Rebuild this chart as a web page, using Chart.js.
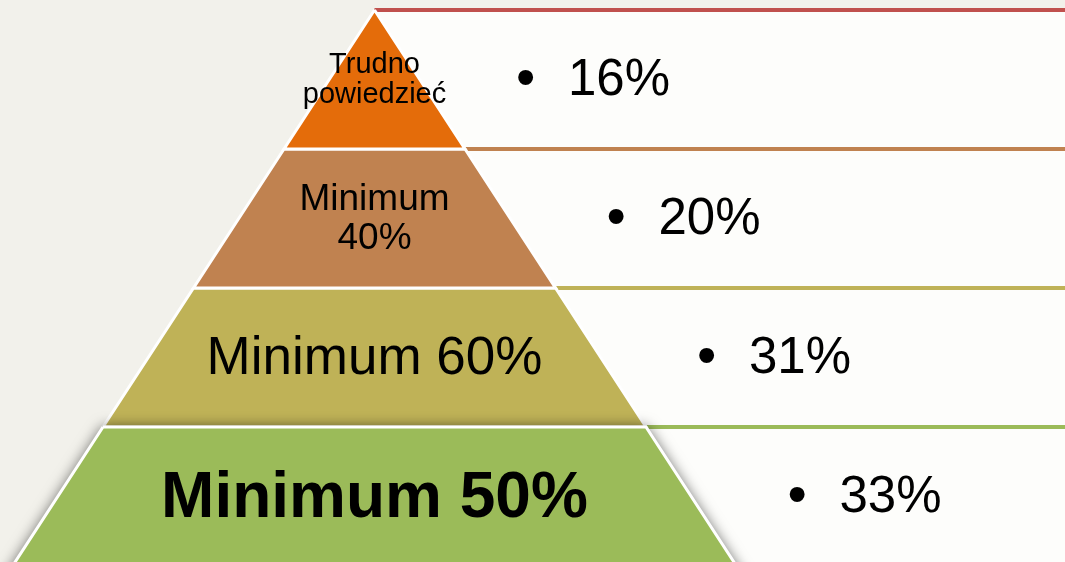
<!DOCTYPE html>
<html><head><meta charset="utf-8">
<script src="https://cdn.jsdelivr.net/npm/chart.js@4.4.1/dist/chart.umd.min.js"></script>
<style>
html,body{margin:0;padding:0;background:#f2f1eb;overflow:hidden}
#wrap{position:relative;width:1065px;height:562px}
</style></head>
<body><div id="wrap"><canvas id="c"></canvas></div>
<script>
// ---- data ----
const categories = [["Trudno", "powiedzieć"], ["Minimum", "40%"], ["Minimum 60%"], ["Minimum 50%"]];
const shares = [16, 20, 31, 33];
const valueLabels = shares.map(v => v + "%");
// ---- styles ----
const layerColors = ["#e46c0a", "#c08250", "#bfb257", "#9bbb59"];
const ruleColors  = ["#c0504d", "#c08250", "#bfb257", "#9bbb59"];
const labelFonts  = [["29px", "normal", 30], ["37px", "normal", 39], ["53px", "normal", 0], ["64px", "bold", 0]];
const FONT = "'Liberation Sans', Arial, sans-serif";

const N = categories.length;
const Y_MAX = 4.0719, Y_MIN = 0.0288;      // level scale (apex = N, base = 0)
const X_MIN = -1.03453, X_MAX = 1.90746;   // half-width units (base half-width = 1)
const hw = L => (N - L) / N;

const datasets = [];
// right-hand panel
datasets.push({
  label: "panel",
  data: [{x: hw(N), y: N}, {x: X_MAX, y: N}, {x: X_MAX, y: Y_MIN - 0.1}, {x: hw(Y_MIN - 0.1), y: Y_MIN - 0.1}, {x: hw(N), y: N}],
  fill: "shape", backgroundColor: "#fdfdfb", borderWidth: 0, pointRadius: 0, order: 20
});
// horizontal rules
ruleColors.forEach((c, i) => {
  const L = N - i;
  datasets.push({
    label: "rule" + i,
    data: [{x: hw(L), y: L}, {x: X_MAX, y: L}],
    fill: false, borderColor: c, borderWidth: 4, pointRadius: 0, order: 15
  });
});
// pyramid layers
const layerOrder = [2, 3, 5, 4];
const layerIndex = [];
categories.forEach((cat, i) => {
  const T = N - i, B = i === N - 1 ? -0.2 : N - 1 - i;
  layerIndex.push(datasets.length);
  datasets.push({
    label: Array.isArray(cat) ? cat.join(" ") : cat,
    data: [{x: -hw(T), y: T}, {x: hw(T), y: T}, {x: hw(B), y: B}, {x: -hw(B), y: B}, {x: -hw(T), y: T}],
    fill: "shape", backgroundColor: layerColors[i], borderColor: "#ffffff", borderWidth: 3,
    borderJoinStyle: "miter", pointRadius: 0, order: layerOrder[i]
  });
});

const shadowPlugin = {
  id: "shadow",
  afterDatasetDraw(chart, args) {
    if (args.index !== layerIndex[2]) return;
    const pts = chart.getDatasetMeta(layerIndex[3]).data;
    const ctx = chart.ctx;
    ctx.save();
    ctx.shadowColor = "rgba(0,0,0,0.6)";
    ctx.shadowBlur = 14;
    ctx.fillStyle = "#808080";
    ctx.beginPath();
    pts.forEach((p, k) => k ? ctx.lineTo(p.x, p.y) : ctx.moveTo(p.x, p.y));
    ctx.closePath();
    ctx.fill();
    ctx.restore();
  }
};

const textPlugin = {
  id: "texts",
  afterDatasetsDraw(chart) {
    const ctx = chart.ctx, xs = chart.scales.x, ys = chart.scales.y;
    ctx.save();
    ctx.fillStyle = "#000";
    categories.forEach((cat, i) => {
      const lines = Array.isArray(cat) ? cat : [cat];
      const [size, weight, lh] = labelFonts[i];
      const px = parseFloat(size);
      const cx = xs.getPixelForValue(0);
      const cy = ys.getPixelForValue(N - i - 0.5) - 2;
      const capH = 0.716 * px;
      const b1 = cy + capH / 2 - (lines.length - 1) * lh / 2;
      ctx.font = `${weight} ${size} ${FONT}`;
      ctx.textAlign = "center";
      ctx.textBaseline = "alphabetic";
      lines.forEach((t, k) => ctx.fillText(t, cx, b1 + k * lh));

      // bullet + value
      const bx = xs.getPixelForValue(hw(N - i)) + 151.5;
      const vcy = ys.getPixelForValue(N - i - 0.5) - 2.5;
      const vsize = 51;
      ctx.textAlign = "left";
      ctx.font = `100px ${FONT}`;
      const m = ctx.measureText("•");
      const w100 = m.actualBoundingBoxRight + m.actualBoundingBoxLeft;
      const bs = 100 * 16 / w100;
      ctx.font = `${bs}px ${FONT}`;
      const mb = ctx.measureText("•");
      const voff = (mb.actualBoundingBoxAscent - mb.actualBoundingBoxDescent) / 2;
      const hoff = (mb.actualBoundingBoxRight - mb.actualBoundingBoxLeft) / 2;
      ctx.fillText("•", bx - hoff, vcy + voff);
      ctx.font = `${vsize}px ${FONT}`;
      ctx.fillText(valueLabels[i], bx + 42, vcy + 0.716 * vsize / 2);
    });
    ctx.restore();
  }
};

new Chart(document.getElementById("c"), {
  type: "line",
  data: { datasets },
  options: {
    responsive: true, maintainAspectRatio: false, animation: false, events: [],
    layout: { padding: 0 },
    elements: { line: { tension: 0 } },
    scales: {
      x: { type: "linear", min: X_MIN, max: X_MAX, display: false },
      y: { type: "linear", min: Y_MIN, max: Y_MAX, display: false }
    },
    plugins: { legend: { display: false }, tooltip: { enabled: false } }
  },
  plugins: [shadowPlugin, textPlugin]
});
</script>
</body></html>
